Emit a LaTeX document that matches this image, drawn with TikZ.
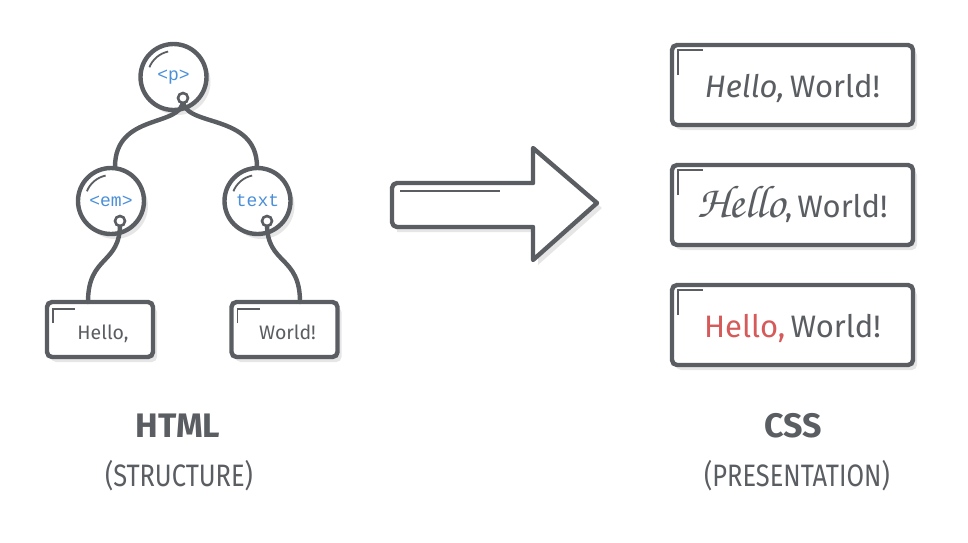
\documentclass[tikz,border=0pt]{standalone}
\usepackage{fontspec}
\setmainfont{Fira Sans}
\setmonofont{Liberation Mono}
\newfontfamily\capfont[FakeStretch=0.82]{Fira Sans}
\IfFontExistsTF{TeX Gyre Chorus}{\newfontfamily\chorusfont{TeX Gyre Chorus}}{\newfontfamily\chorusfont[FakeSlant=0.25]{Liberation Serif}}
\usetikzlibrary{shadows,calc}
\definecolor{dk}{HTML}{5A5D61}
\definecolor{bl}{HTML}{4A8FD9}
\definecolor{rd}{HTML}{D65A5A}
\definecolor{sh}{HTML}{E6E6E6}
\tikzset{
  ln/.style={draw=dk, line width=4.4pt},
  shad/.style={drop shadow={shadow xshift=4pt, shadow yshift=-5pt, fill=sh, opacity=1}},
  treenode/.style={circle, ln, fill=white, shad, minimum size=66pt, inner sep=0pt, font=\ttfamily\fontsize{18}{18}\selectfont, text=bl},
  leaf/.style={rectangle, rounded corners=5pt, ln, fill=white, shad, minimum width=106pt, minimum height=55pt, inner sep=0pt, font=\fontsize{19.5}{19.5}\selectfont, text=dk},
  cssbox/.style={rectangle, rounded corners=5pt, ln, fill=white, shad, minimum width=241pt, minimum height=80pt, inner sep=0pt, font=\fontsize{31}{31}\selectfont, text=dk},
  port/.style={circle, draw=dk, line width=2.6pt, fill=white, minimum size=10pt, inner sep=0pt},
  wire/.style={draw=dk, line width=4.4pt, line cap=round},
  thin/.style={draw=dk, line width=1.8pt},
  title/.style={font=\bfseries\fontsize{34}{34}\selectfont, text=dk},
  sub/.style={font=\capfont\fontsize{31}{31}\selectfont, text=dk}
}
\newcommand{\lowerby}[2]{\raisebox{-#1}[0pt][0pt]{#2}}
\begin{document}
\begin{tikzpicture}[x=1pt,y=-1pt]
\useasboundingbox (0,0) rectangle (968,542);
% tree
\node[treenode] (p) at (173.5,77) {<p>};
\node[treenode] (em) at (111,201) {<em>};
\node[treenode] (tx) at (257.5,201) {text};
\node[leaf] (hello) at (100,329.5) {\hspace*{6pt}\lowerby{10pt}{Hello,}};
\node[leaf] (world) at (284.5,329.5) {\hspace*{6pt}\lowerby{10pt}{World!}};
\foreach \n in {p,em,tx}{
  \draw[thin] (\n) ++(202:26) arc[start angle=202, end angle=258, radius=26];
}
\foreach \n in {hello,world}{
  \draw[thin] ($(\n)+(-47,-6.5)$) -- ($(\n)+(-47,-20.5)$) -- ($(\n)+(-25,-20.5)$);
}
\coordinate (emtop) at (115,167);
\coordinate (txtop) at (257,167);
\coordinate (htop) at (88,302);
\coordinate (wtop) at (300,302);
\draw[wire] (183,100) .. controls (183,128) and (115,112) .. (emtop);
\draw[wire] (183,100) .. controls (183,128) and (257,112) .. (txtop);
\draw[wire] (120,224) .. controls (120,265) and (88,255) .. (htop);
\draw[wire] (267,224) .. controls (267,265) and (300,255) .. (wtop);
\node[port] (pp) at (183,98) {};
\node[port] (pem) at (120,221) {};
\node[port] (ptx) at (267,221) {};
% arrow
\path[fill=sh] (397,188) -- (538,188) -- (538,153) -- (602,208) -- (538,265) -- (538,232) -- (397,232) -- cycle;
\draw[ln, fill=white, line join=round] (533,183) -- (533,148) -- (597,203) -- (533,260) -- (533,227) [rounded corners=5pt] -- (392,227) -- (392,183) [sharp corners] -- cycle;
\draw[draw=dk, line width=2pt] (400,191) -- (500,191);
% css boxes
\node[cssbox] (c1) at (792.5,85) {\lowerby{12pt}{{\itshape Hello,}\,World!}};
\node[cssbox] (c2) at (792.5,205) {\lowerby{12pt}{{\chorusfont\fontsize{46}{46}\selectfont Hello},\,World!}};
\node[cssbox] (c3) at (792.5,325) {\lowerby{12pt}{\textcolor{rd}{Hello,}\,World!}};
\foreach \n in {c1,c2,c3}{
  \draw[thin] ($(\n)+(-114.5,-10)$) -- ($(\n)+(-114.5,-35)$) -- ($(\n)+(-89.5,-35)$);
}
% labels
\node[title] (html) at (178,426) {HTML};
\node[sub] (struct) at (179,476) {(STRUCTURE)};
\node[title] (css) at (793,426) {CSS};
\node[sub] (pres) at (797,476) {(PRESENTATION)};
\end{tikzpicture}
\end{document}
